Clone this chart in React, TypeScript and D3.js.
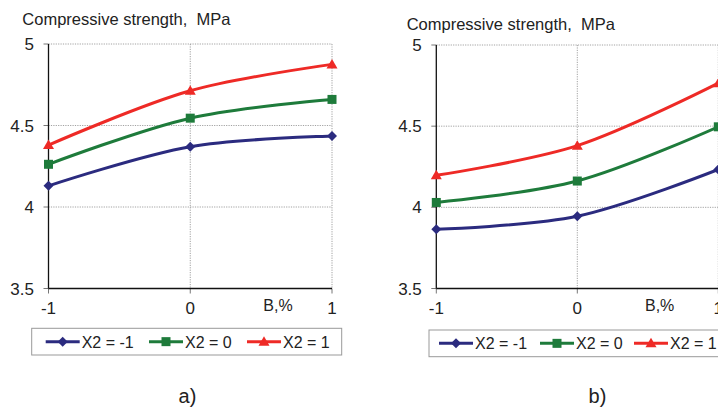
import React from "react";
import * as d3 from "d3";

const xCategories = [-1, 0, 1];
const yTicks = [3.5, 4, 4.5, 5];
const seriesNames = ["X2 = -1", "X2 = 0", "X2 = 1"];

const aBlue = [4.13, 4.37, 4.435];
const aGreen = [4.262, 4.545, 4.66];
const aRed = [4.38, 4.713, 4.875];

const bBlue = [3.865, 3.945, 4.233];
const bGreen = [4.03, 4.162, 4.496];
const bRed = [4.197, 4.38, 4.765];

const yTitle = "Compressive strength,  MPa";
const xTitle = "B,%";
const captions = ["a)", "b)"];

const COLORS = ["#2B2B7F", "#1E7B3B", "#EE2A26"];
const MARKERS = ["diamond", "square", "triangle"];
const FONT = "'Liberation Sans', Arial, Helvetica, sans-serif";
const TEXT = "#222";

const panels = [
  {
    data: [aBlue, aGreen, aRed],
    x0: 48.5, x1: 332, yTop: 44, yBot: 288.5,
    titleX: 22.3, titleY: 25,
    xTitleX: 263.3,
    legend: { x: 31.7, y: 328.3, w: 310, h: 26.7, starts: [45.7, 149, 247] },
    caption: captions[0], captionX: 187.5,
  },
  {
    data: [bBlue, bGreen, bRed],
    x0: 436.3, x1: 718.3, yTop: 45, yBot: 288.5,
    titleX: 406.7, titleY: 30,
    xTitleX: 645,
    legend: { x: 429, y: 330, w: 310, h: 26.7, starts: [439, 540, 634] },
    caption: captions[1], captionX: 597.5,
  },
];

function Marker({ kind, x, y, color }: { kind: string; x: number; y: number; color: string }) {
  if (kind === "diamond") {
    const r = 5;
    return <path d={`M${x},${y - r}L${x + r},${y}L${x},${y + r}L${x - r},${y}Z`} fill={color} />;
  }
  if (kind === "square") {
    const s = 4.5;
    return <rect x={x - s} y={y - s} width={2 * s} height={2 * s} fill={color} />;
  }
  const h = 5;
  return <path d={`M${x},${y - h - 0.5}L${x + h + 0.5},${y + h - 1}L${x - h - 0.5},${y + h - 1}Z`} fill={color} />;
}

function Panel({ p }: { p: (typeof panels)[number] }) {
  const x = d3.scaleLinear().domain([-1, 1]).range([p.x0, p.x1]);
  const y = d3.scaleLinear().domain([3.5, 5]).range([p.yBot, p.yTop]);
  const line = d3
    .line<number>()
    .x((_, i) => x(xCategories[i]))
    .y((d) => y(d))
    .curve(d3.curveCatmullRom.alpha(0.5));
  const grid = "#8a8a8a";
  return (
    <g>
      <text x={p.titleX} y={p.titleY} fontSize={16.5} fill={TEXT} fontFamily={FONT} style={{ whiteSpace: "pre" }}>
        {yTitle}
      </text>
      {yTicks.filter((t) => t > 3.5).map((t) => (
        <line key={"h" + t} x1={p.x0} x2={p.x1} y1={y(t)} y2={y(t)} stroke={grid} strokeWidth={0.8} strokeDasharray="1.2,1.2" />
      ))}
      {xCategories.filter((c) => c > -1).map((c) => (
        <line key={"v" + c} x1={x(c)} x2={x(c)} y1={p.yTop} y2={p.yBot} stroke={grid} strokeWidth={0.8} strokeDasharray="1.2,1.2" />
      ))}
      {yTicks.map((t) => (
        <line key={"yt" + t} x1={p.x0 - 5} x2={p.x0} y1={y(t)} y2={y(t)} stroke="#777" strokeWidth={1} />
      ))}
      {xCategories.map((c) => (
        <line key={"xt" + c} x1={x(c)} x2={x(c)} y1={p.yBot} y2={p.yBot + 5} stroke="#777" strokeWidth={1} />
      ))}
      <line x1={p.x0} x2={p.x0} y1={p.yTop} y2={p.yBot} stroke="#111" strokeWidth={1.3} />
      <line x1={p.x0} x2={p.x1} y1={p.yBot} y2={p.yBot} stroke="#111" strokeWidth={1.3} />
      {yTicks.map((t) => (
        <text key={"yl" + t} x={p.x0 - 14.5} y={y(t) + 6} fontSize={17} textAnchor="end" fill={TEXT} fontFamily={FONT}>
          {String(t)}
        </text>
      ))}
      {xCategories.map((c) => (
        <text key={"xl" + c} x={x(c)} y={313.5} fontSize={17} textAnchor="middle" fill={TEXT} fontFamily={FONT}>
          {String(c)}
        </text>
      ))}
      <text x={p.xTitleX} y={311} fontSize={16} fill={TEXT} fontFamily={FONT}>
        {xTitle}
      </text>
      {p.data.map((s, si) => (
        <g key={"s" + si}>
          <path d={line(s) || ""} fill="none" stroke={COLORS[si]} strokeWidth={3} />
          {s.map((v, i) => (
            <Marker key={i} kind={MARKERS[si]} x={x(xCategories[i])} y={y(v)} color={COLORS[si]} />
          ))}
        </g>
      ))}
      <rect x={p.legend.x} y={p.legend.y} width={p.legend.w} height={p.legend.h} fill="#fff" stroke="#999" strokeWidth={1} />
      {seriesNames.map((n, si) => {
        const lx = p.legend.starts[si];
        const cy = p.legend.y + p.legend.h / 2;
        return (
          <g key={"l" + si}>
            <line x1={lx} x2={lx + 34} y1={cy} y2={cy} stroke={COLORS[si]} strokeWidth={3} />
            <Marker kind={MARKERS[si]} x={lx + 17} y={cy} color={COLORS[si]} />
            <text x={lx + 36} y={cy + 6} fontSize={16} fill={TEXT} fontFamily={FONT}>
              {n}
            </text>
          </g>
        );
      })}
      <text x={p.captionX} y={403} fontSize={20} textAnchor="middle" fill={TEXT} fontFamily={FONT}>
        {p.caption}
      </text>
    </g>
  );
}

export default function App() {
  return (
    <svg
      width={718}
      height={409}
      viewBox="0 0 718 409"
      style={{ position: "absolute", left: 0, top: 0, background: "#fff" }}
    >
      <rect x={0} y={0} width={718} height={409} fill="#fff" />
      {panels.map((p, i) => (
        <Panel key={i} p={p} />
      ))}
    </svg>
  );
}
